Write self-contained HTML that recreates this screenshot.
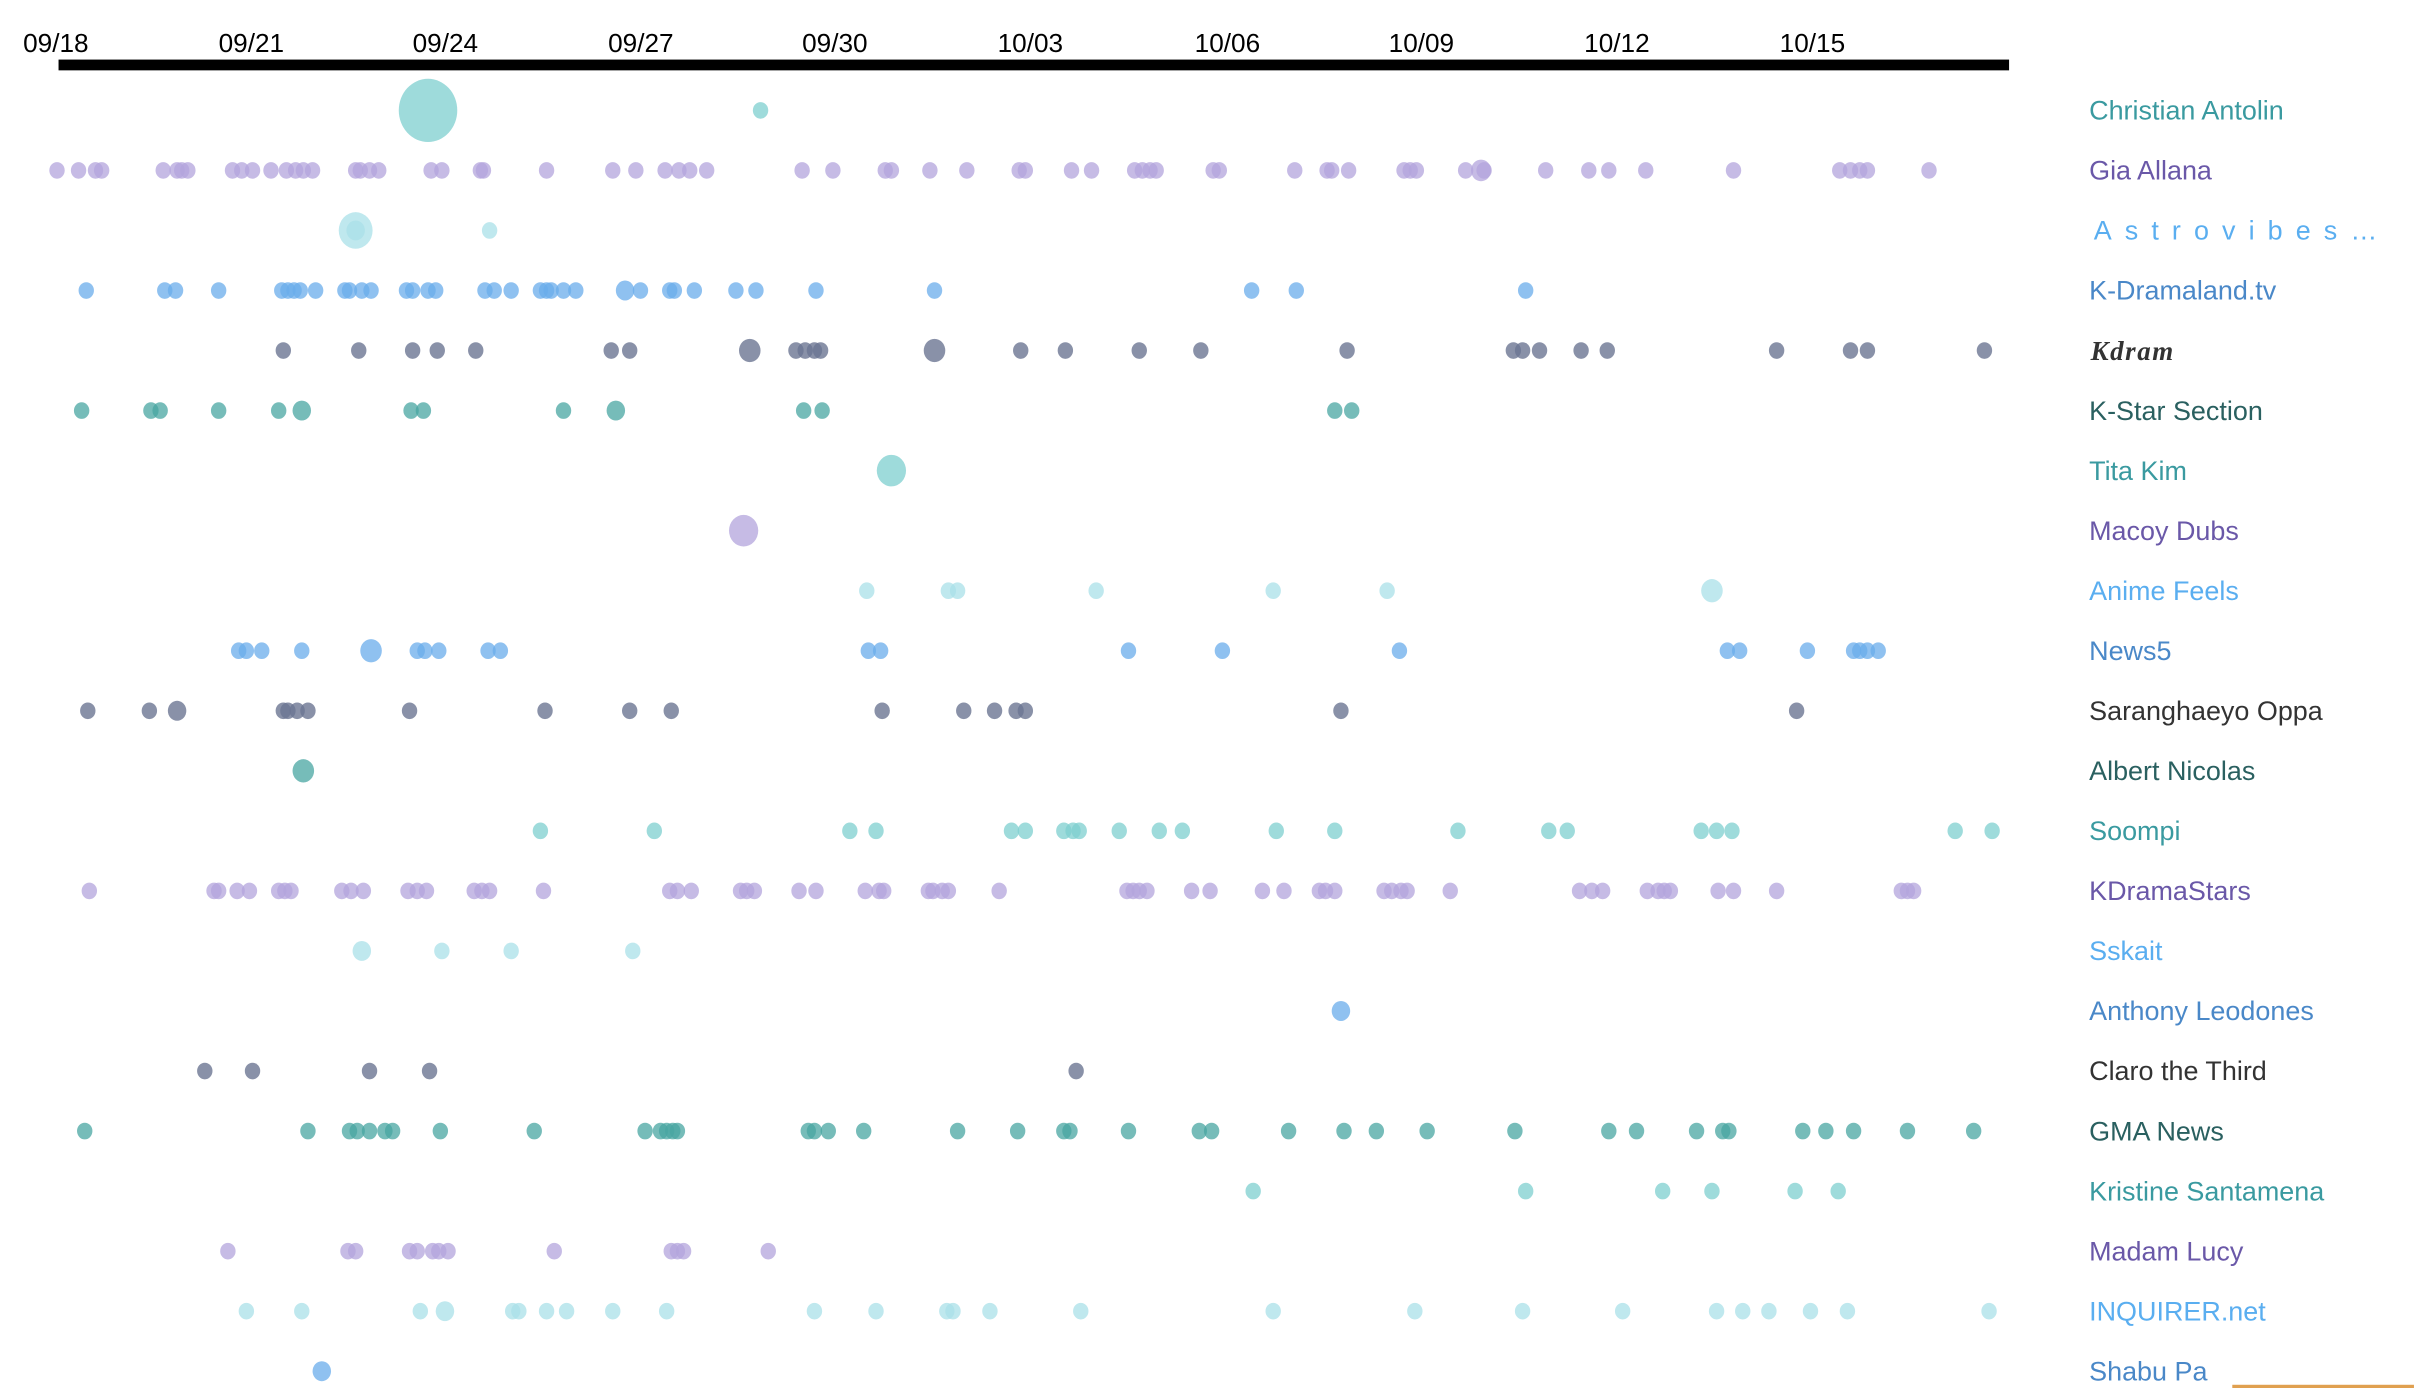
<!DOCTYPE html>
<html><head><meta charset="utf-8"><style>
html,body{margin:0;padding:0;background:#fff;}
svg{display:block;}
text{font-family:"Liberation Sans",sans-serif;}
</style></head><body>
<svg id="s" width="2414" height="1388" viewBox="0 0 1568 901.6" xmlns="http://www.w3.org/2000/svg">
<rect x="0" y="0" width="1568" height="901.6" fill="#fff"/>
<g transform="translate(0,0.7)">
<g font-size="17" fill="#000">
<text x="15" y="33">09/18</text><text x="142" y="33">09/21</text><text x="268" y="33">09/24</text>
<text x="395" y="33">09/27</text><text x="521" y="33">09/30</text><text x="648" y="33">10/03</text>
<text x="776" y="33">10/06</text><text x="902" y="33">10/09</text><text x="1029" y="33">10/12</text>
<text x="1156" y="33">10/15</text>
</g>
<rect x="38" y="38" width="1267" height="7" fill="#000"/>
<g id="dots"></g>
<g font-size="17.5">
<text x="1357" y="77" fill="#3a9aa0">Christian Antolin</text>
<text x="1357" y="116" fill="#6a58a8">Gia Allana</text>
<text x="1360" y="155" fill="#5aaef0" letter-spacing="8.5">Astrovibes…</text>
<text x="1357" y="194" fill="#4a88c8">K-Dramaland.tv</text>
<text x="1358" y="233" fill="#333" style="font-family:'Liberation Serif',serif;font-weight:bold;font-style:italic;letter-spacing:1px">Kdram</text>
<text x="1357" y="272" fill="#2a6060">K-Star Section</text>
<text x="1357" y="311" fill="#3a9aa0">Tita Kim</text>
<text x="1357" y="350" fill="#6a58a8">Macoy Dubs</text>
<text x="1357" y="389" fill="#5aaef0">Anime Feels</text>
<text x="1357" y="428" fill="#4a88c8">News5</text>
<text x="1357" y="467" fill="#333">Saranghaeyo Oppa</text>
<text x="1357" y="506" fill="#2a6060">Albert Nicolas</text>
<text x="1357" y="545" fill="#3a9aa0">Soompi</text>
<text x="1357" y="584" fill="#6a58a8">KDramaStars</text>
<text x="1357" y="623" fill="#5aaef0">Sskait</text>
<text x="1357" y="662" fill="#4a88c8">Anthony Leodones</text>
<text x="1357" y="701" fill="#333">Claro the Third</text>
<text x="1357" y="740" fill="#2a6060">GMA News</text>
<text x="1357" y="779" fill="#3a9aa0">Kristine Santamena</text>
<text x="1357" y="818" fill="#6a58a8">Madam Lucy</text>
<text x="1357" y="857" fill="#5aaef0">INQUIRER.net</text>
<text x="1357" y="896" fill="#4a88c8">Shabu Pa</text>
</g>
</g>
<rect x="1450" y="899.5" width="118" height="2.1" fill="#e0a050"/>
</svg>
<script>
var T="#7dcfcf",P="#b3a4dc",C="#a9e0e8",B="#6aaceb",G="#6b7592",D="#48a6a2";
var rows=[
[T,[[278,19],[494,5]]],
[P,[37,51,62,66,106,115,118,122,151,157,164,176,186,192,197,203,231,234,240,246,280,287,312,314,355,398,413,432,441,448,459,521,541,575,579,604,628,662,666,696,709,737,742,747,751,788,792,841,862,865,876,912,916,920,952,[962,6.5],964,1004,1032,1045,1069,1126,1195,1202,1208,1213,1253]],
[C,[[231,11],[231,6],318]],
[B,[56,107,114,142,183,187,191,195,205,224,227,235,241,264,268,278,283,315,321,332,351,355,358,366,374,[406,6],416,435,438,451,478,491,530,607,813,842,991]],
[G,[184,233,268,284,309,397,409,[487,7],517,523,529,533,[607,7],663,692,740,780,875,983,989,1000,1027,1044,1154,1202,1213,1289]],
[D,[53,98,104,142,181,[196,6],267,275,366,[400,6],522,534,867,878]],
[T,[[579,9.5]]],
[P,[[483,9.5]]],
[C,[563,616,622,712,827,901,[1112,7]]],
[B,[155,160,170,196,[241,7],271,276,285,317,325,564,572,733,794,909,1122,1130,1174,1204,1208,1213,1220]],
[G,[57,97,[115,6],184,187,193,200,266,354,409,436,573,626,646,660,666,871,1167]],
[D,[[197,7]]],
[T,[351,425,552,569,657,666,691,697,701,727,753,768,829,867,947,1006,1018,1105,1115,1125,1270,1294]],
[P,[58,139,142,154,162,181,185,189,222,228,236,265,271,277,308,313,318,353,435,440,449,481,485,490,519,530,562,571,574,603,606,612,616,649,732,736,740,745,774,786,820,834,857,861,867,899,904,910,914,942,1026,1034,1041,1070,1077,1081,1085,1116,1126,1154,1235,1239,1243]],
[C,[[235,6],287,332,411]],
[B,[[871,6]]],
[G,[133,164,240,279,699]],
[D,[55,200,227,232,240,250,255,286,347,419,429,433,437,440,525,529,538,561,622,661,691,695,733,779,787,837,873,894,927,984,1045,1063,1102,1119,1123,1171,1186,1204,1239,1282]],
[T,[814,991,1080,1112,1166,1194]],
[P,[148,226,231,266,271,281,285,291,360,436,440,444,499]],
[C,[160,196,273,[289,6],333,337,355,368,398,433,529,569,615,619,643,702,827,919,989,1054,1115,1132,1149,1176,1200,1292]],
[B,[[209,6]]]
];
var g=document.getElementById("dots"),ns="http://www.w3.org/2000/svg";
rows.forEach(function(r,i){var y=71+39*i;r[1].forEach(function(d){
var x=Array.isArray(d)?d[0]:d,rad=Array.isArray(d)?d[1]:5;
var e=document.createElementNS(ns,"ellipse");
e.setAttribute("cx",x);e.setAttribute("cy",y);e.setAttribute("rx",rad);e.setAttribute("ry",rad*1.08);
e.setAttribute("fill",r[0]);e.setAttribute("fill-opacity",r[0]==G?0.8:0.75);g.appendChild(e);});});
</script>
</body></html>
